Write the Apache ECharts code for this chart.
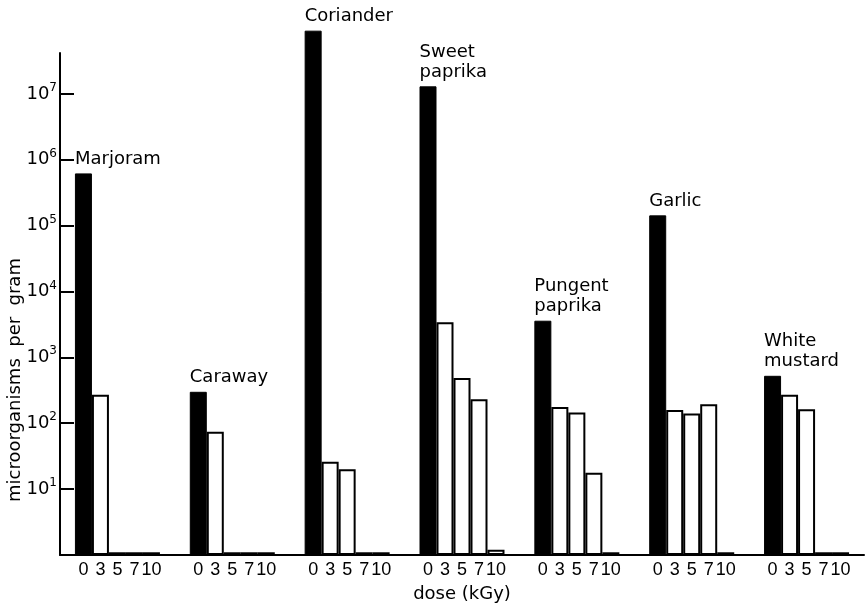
<!DOCTYPE html>
<html>
<head>
<meta charset="utf-8">
<script src="https://cdn.jsdelivr.net/npm/echarts@6/dist/echarts.min.js"></script>
<style>
html,body{margin:0;padding:0;background:#fff;}
#chart{width:867px;height:609px;}
</style>
</head>
<body>
<div id="chart"></div>
<script>
const categories = ['Marjoram', 'Caraway', 'Coriander', 'Sweet paprika', 'Pungent paprika', 'Garlic', 'White mustard'];
const doses = ['0', '3', '5', '7', '10'];
const dose0 = [6.2e5, 300, 9.1e7, 1.3e7, 3600, 1.43e5, 525];
const dose3 = [270, 74, 26, 3400, 177, 159, 270];
const dose5 = [1.1, 1.1, 20, 484, 145, 140, 163];
const dose7 = [1.1, 1.1, 1.1, 232, 17.7, 195, 1.1];
const dose10 = [1.1, 1.1, 1.1, 1.2, 1.1, 1.1, 1.1];
const yTicks = [10, 100, 1e3, 1e4, 1e5, 1e6, 1e7];

const values = [dose0, dose3, dose5, dose7, dose10];
const BAR_W = 17;

const chart = echarts.init(document.getElementById('chart'));
const series = doses.map((d, i) => {
  const s = {
    type: 'bar',
    name: d,
    data: values[i],
    barWidth: BAR_W,
    barGap: '0%',
    clip: false,
    itemStyle: i === 0
      ? { color: '#000', borderColor: '#000', borderWidth: 1 }
      : { color: '#fff', borderColor: '#000', borderWidth: 2 }
  };
  if (i === 0) {
    s.label = {
      show: true,
      position: [0, -4],
      align: 'left',
      verticalAlign: 'bottom',
      fontSize: 18,
      lineHeight: 20,
      color: '#000',
      fontFamily: 'DejaVu Sans',
      formatter: p => p.name.replace(' ', '\n')
    };
  }
  return s;
});

chart.setOption({
  backgroundColor: '#fff',
  animation: false,
  textStyle: { fontFamily: 'DejaVu Sans', color: '#000' },
  grid: { left: 60, right: 3, top: 53, bottom: 54, containLabel: false, outerBoundsMode: 'none' },
  xAxis: {
    type: 'category',
    data: categories,
    name: 'dose (kGy)',
    nameLocation: 'middle',
    nameGap: 30,
    nameMoveOverlap: false,
    nameTextStyle: { fontSize: 18, color: '#000' },
    axisLine: { show: true, lineStyle: { color: '#000', width: 2 } },
    axisTick: { show: false },
    axisLabel: {
      interval: 0,
      margin: 6,
      formatter: () => doses.map(d => '{d|' + d + '}').join(''),
      rich: { d: { width: BAR_W, align: 'center', fontSize: 18, fontFamily: 'Liberation Sans', color: '#000' } }
    }
  },
  yAxis: {
    type: 'log',
    logBase: 10,
    min: 1,
    max: Math.pow(10, 7.62),
    name: 'microorganisms  per  gram',
    nameLocation: 'middle',
    nameGap: 36,
    nameMoveOverlap: false,
    nameTextStyle: { fontSize: 18, color: '#000', padding: [0, 152, 0, 0] },
    splitLine: { show: false },
    axisLine: { show: true, lineStyle: { color: '#000', width: 2 } },
    axisTick: { show: true, inside: true, length: 14, lineStyle: { color: '#000', width: 2 }, customValues: yTicks },
    axisLabel: {
      margin: 3,
      customValues: yTicks,
      formatter: v => {
        const e = Math.round(Math.log10(v));
        if (e < 1 || Math.abs(Math.log10(v) - e) > 1e-6) return '';
        return '{b|10}{e|' + e + '}';
      },
      rich: {
        b: { fontSize: 18, color: '#000' },
        e: { fontSize: 12, color: '#000', padding: [0, 0, 12, 0] }
      }
    }
  },
  series: series
});
</script>
</body>
</html>
